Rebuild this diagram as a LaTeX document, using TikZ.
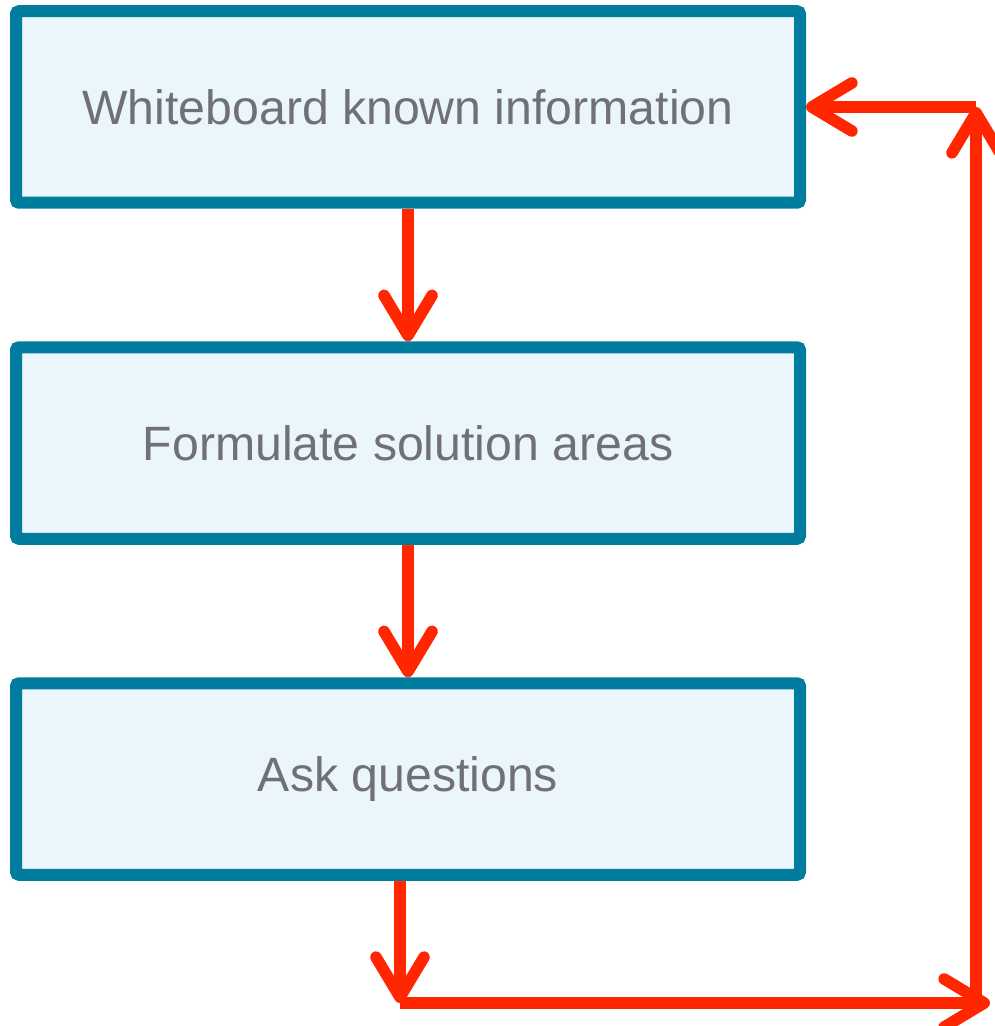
\documentclass[tikz,border=0pt]{standalone}
\usepackage{fontspec}
\setmainfont{Liberation Sans}
\usetikzlibrary{arrows.meta}
\definecolor{boxedge}{RGB}{0,124,158}
\definecolor{boxfill}{RGB}{234,246,251}
\definecolor{flowred}{RGB}{255,38,0}
\definecolor{labelgray}{RGB}{112,112,117}
\tikzset{
  stepbox/.style={draw=boxedge, fill=boxfill, line width=6pt, rounded corners=1.5pt,
    minimum width=392pt, minimum height=95.75pt, inner sep=0pt,
    text=labelgray, font=\fontsize{24.1pt}{28pt}\selectfont},
  flow/.style={draw=flowred, line width=5.8pt,
    -{Straight Barb[length=20pt,width=24pt,round]}},
}
\begin{document}
\begin{tikzpicture}[x=0.5pt,y=-0.5pt]
  \useasboundingbox (0,0) rectangle (994,1026);
  % the three process steps
  \node[stepbox] (known) at (408,107) {Whiteboard known information};
  \node[stepbox] (areas) at (408,443) {Formulate solution areas};
  \node[stepbox] (ask)   at (408,779) {Ask questions};
  % corner points of the feedback loop
  \coordinate (bl) at (400,1003);
  \coordinate (tip) at (990,1003);
  \coordinate (br) at (976,1003);
  \coordinate (tr) at (976,107);
  % main flow
  \draw[flow] (known) -- (areas);
  \draw[flow] (areas) -- (ask);
  % loop back to the top
  \draw[flow] (ask.south -| bl) -- (bl);
  \draw[flow] (bl) -- (tip);
  \draw[flow] (br) -- (tr);
  \draw[flow] (tr) -- (known.east |- tr);
\end{tikzpicture}
\end{document}
